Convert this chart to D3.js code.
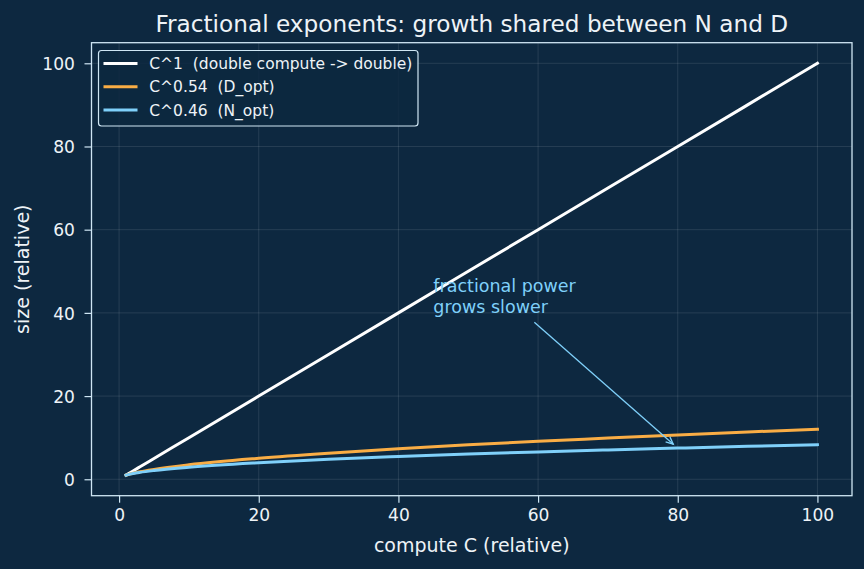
<!DOCTYPE html>
<html>
<head>
<meta charset="utf-8">
<script src="https://cdn.jsdelivr.net/npm/d3@7"></script>
<style>
  html, body { margin: 0; padding: 0; background: #0d2840; }
  svg { display: block; font-family: "DejaVu Sans", sans-serif; }
</style>
</head>
<body>
<div id="chart"></div>
<script>
// values
var computeC = [1, 2, 3, 5, 10, 20, 30, 40, 50, 60, 70, 80, 90, 100];
var linear   = [1, 2, 3, 5, 10, 20, 30, 40, 50, 60, 70, 80, 90, 100];
var dOpt     = [1, 1.45, 1.81, 2.38, 3.47, 5.04, 6.27, 7.33, 8.27, 9.12, 9.9, 10.66, 11.36, 12.02];
var nOpt     = [1, 1.38, 1.66, 2.10, 2.88, 3.97, 4.79, 5.46, 6.05, 6.58, 7.06, 7.49, 7.93, 8.32];
var seriesNames = ["C^1  (double compute -> double)", "C^0.54  (D_opt)", "C^0.46  (N_opt)"];
var xTicks = [0, 20, 40, 60, 80, 100];
var yTicks = [0, 20, 40, 60, 80, 100];

var colors = ["#ffffff", "#f9ad45", "#7fd0fa"];
var fg = "#eef3f7";
var spine = "#cfe6f4";

var W = 864, H = 569;
var margin = {left: 91.5, top: 42.7, right: 12, bottom: 73.3};
var iw = W - margin.left - margin.right, ih = H - margin.top - margin.bottom;

var svg = d3.select("#chart").append("svg")
    .attr("width", W).attr("height", H);
svg.append("rect").attr("width", W).attr("height", H).attr("fill", "#0d2840");

var x = d3.scaleLinear().domain([-3.95, 104.95]).range([0, iw]);
var y = d3.scaleLinear().domain([-3.95, 104.95]).range([ih, 0]);

var g = svg.append("g").attr("transform", "translate(" + margin.left + "," + margin.top + ")");

// grid
g.append("g").selectAll("line").data(xTicks).enter().append("line")
    .attr("x1", d => x(d)).attr("x2", d => x(d)).attr("y1", 0).attr("y2", ih)
    .attr("stroke", "#ffffff").attr("stroke-opacity", 0.12).attr("stroke-width", 0.9);
g.append("g").selectAll("line").data(yTicks).enter().append("line")
    .attr("y1", d => y(d)).attr("y2", d => y(d)).attr("x1", 0).attr("x2", iw)
    .attr("stroke", "#ffffff").attr("stroke-opacity", 0.12).attr("stroke-width", 0.9);

// axes
var xAxis = g.append("g").attr("transform", "translate(0," + ih + ")")
    .call(d3.axisBottom(x).tickValues(xTicks).tickSize(7).tickPadding(6).tickFormat(d3.format("d")));
var yAxis = g.append("g")
    .call(d3.axisLeft(y).tickValues(yTicks).tickSize(7).tickPadding(9.5).tickFormat(d3.format("d")));
[xAxis, yAxis].forEach(function(a) {
    a.select(".domain").remove();
    a.selectAll(".tick line").attr("stroke", spine).attr("stroke-width", 1.2);
    a.selectAll(".tick text").attr("fill", fg).style("font-size", "17.1px")
        .style("font-family", "DejaVu Sans");
});
yAxis.selectAll(".tick text").attr("dy", "0.36em");

// lines
var rows = [linear, dOpt, nOpt];
var line = d3.line().x((d, i) => x(computeC[i])).y(d => y(d)).curve(d3.curveMonotoneX);
rows.forEach(function(r, k) {
    g.append("path").datum(r).attr("d", line)
        .attr("fill", "none").attr("stroke", colors[k]).attr("stroke-width", 3)
        .attr("stroke-linecap", "square");
});

// spines
g.append("rect").attr("width", iw).attr("height", ih)
    .attr("fill", "none").attr("stroke", spine).attr("stroke-width", 1.3);

// annotation
var noteText = ["fractional power", "grows slower"];
var noteAt = [45, 40], noteTarget = [80, 7.49];
var note = g.append("text").attr("x", x(noteAt[0])).attr("y", y(noteAt[1]))
    .attr("fill", "#7fd0fa").style("font-size", "17.5px");
note.selectAll("tspan").data(noteText).enter().append("tspan")
    .attr("x", x(noteAt[0])).attr("dy", (d, i) => i === 0 ? "-1.2em" : "1.2em").text(d => d);
var bb = note.node().getBBox();
var cx = bb.x + bb.width / 2, cy = bb.y + bb.height / 2;
var tx = x(noteTarget[0]), ty = y(noteTarget[1]);
var dx = tx - cx, dy = ty - cy;
var t = Math.min((bb.width / 2) / Math.abs(dx), (bb.height / 2) / Math.abs(dy));
var len = Math.sqrt(dx * dx + dy * dy);
var ux = dx / len, uy = dy / len;
var sx = cx + dx * t + ux * 8, sy = cy + dy * t + uy * 8;
var ex = tx - ux * 6, ey = ty - uy * 6;
g.append("line").attr("x1", sx).attr("y1", sy).attr("x2", ex).attr("y2", ey)
    .attr("stroke", "#7fd0fa").attr("stroke-width", 1.3);
var ang = Math.atan2(uy, ux), hl = 8, ha = 0.42;
g.append("path")
    .attr("d", "M" + (ex - hl * Math.cos(ang - ha)) + "," + (ey - hl * Math.sin(ang - ha)) +
        "L" + ex + "," + ey + "L" + (ex - hl * Math.cos(ang + ha)) + "," + (ey - hl * Math.sin(ang + ha)))
    .attr("fill", "none").attr("stroke", "#7fd0fa").attr("stroke-width", 1.3);

// legend
var lg = svg.append("g");
lg.append("rect").attr("x", 98.5).attr("y", 50.5).attr("width", 319.5).attr("height", 75.5)
    .attr("rx", 3).attr("fill", "#0d2840").attr("fill-opacity", 0.85)
    .attr("stroke", spine).attr("stroke-width", 1.2);
seriesNames.forEach(function(name, k) {
    var ly = 63.5 + k * 23.3;
    lg.append("line").attr("x1", 103.5).attr("x2", 137.5).attr("y1", ly).attr("y2", ly)
        .attr("stroke", colors[k]).attr("stroke-width", 3);
    lg.append("text").attr("x", 149.3).attr("y", ly).attr("dy", "0.36em")
        .attr("fill", fg).style("font-size", "15.5px").style("white-space", "pre")
        .attr("xml:space", "preserve").text(name);
});

// labels
svg.append("text").attr("x", margin.left + iw / 2).attr("y", 31.7)
    .attr("text-anchor", "middle").attr("fill", fg).style("font-size", "23.2px")
    .text("Fractional exponents: growth shared between N and D");
svg.append("text").attr("x", margin.left + iw / 2).attr("y", 552.3)
    .attr("text-anchor", "middle").attr("fill", fg).style("font-size", "19px")
    .text("compute C (relative)");
svg.append("text").attr("transform", "translate(29," + (margin.top + ih / 2) + ") rotate(-90)")
    .attr("text-anchor", "middle").attr("fill", fg).style("font-size", "19px")
    .text("size (relative)");
</script>
</body>
</html>
